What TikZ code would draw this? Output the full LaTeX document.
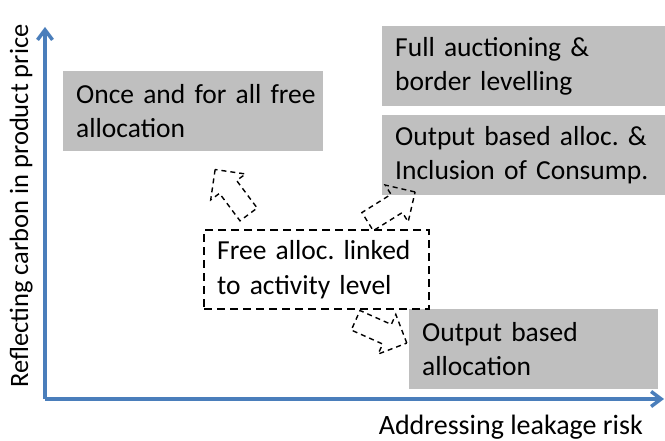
\documentclass[tikz,border=0pt]{standalone}
\usepackage{fontspec}
\setmainfont{Carlito}
\usetikzlibrary{shapes.arrows,arrows.meta}
\definecolor{axisblue}{HTML}{4A7EBB}
\definecolor{boxgray}{HTML}{BFBFBF}
\frenchspacing
\begin{document}
\begin{tikzpicture}[x=1pt,y=-1pt,
  font=\fontsize{27.5}{34.5}\selectfont,
  gbox/.style={fill=boxgray, draw=none, anchor=north west, align=left,
    inner xsep=13pt, inner ysep=0pt, minimum height=80pt},
  dbox/.style={draw=black, dash pattern=on 8pt off 5pt, line width=2.4pt,
    anchor=north west, align=left, inner xsep=13pt, inner ysep=0pt, minimum height=79pt},
  blockarrow/.style={single arrow, draw=black, dash pattern=on 5pt off 4pt,
    line width=1.4pt, minimum height=56pt, minimum width=42pt, inner xsep=0pt,
    inner ysep=10pt, single arrow head extend=11pt, anchor=tail},
  axis/.style={draw=axisblue, line width=3.5pt, -{Straight Barb[length=10pt,width=15pt]}}]
\useasboundingbox (0,0) rectangle (665,441);

% axes
\coordinate (O) at (45,399);
\coordinate (ytop) at (45,27);
\coordinate (xend) at (664,399);
\draw[axis] (O) -- (ytop);
\draw[axis] (O) -- (xend);
\node[anchor=base west, rotate=90, inner sep=0pt, font=\fontsize{26.5}{32}\selectfont] (ylab) at (28,388) {Reflecting carbon in product price};
\node[anchor=base east, inner sep=0pt, font=\fontsize{28}{34}\selectfont] (xlab) at (643,434) {Addressing leakage risk};

% boxes
\node[gbox, text width=234pt] (once) at (63,71) {\mbox{Once and for all free}\\\mbox{allocation}};
\node[gbox, text width=257pt] (full) at (382,26) {\mbox{Full auctioning \&}\\\mbox{border levelling}};
\node[gbox, text width=257pt] (obinc) at (382,115) {\mbox{Output based alloc. \&}\\\mbox{Inclusion of Consump.}};
\node[gbox, text width=223pt] (oba) at (409,309) {\mbox{Output based}\\\mbox{allocation}};
\node[dbox, text width=199pt] (free) at (203,229) {\mbox{Free alloc. linked}\\\mbox{to activity level}};

% block arrows
\node[blockarrow, rotate=126.7] (a1) at (249,215) {};
\node[blockarrow, rotate=32] (a2) at (367,222) {};
\node[blockarrow, rotate=-24] (a3) at (355,320) {};
\end{tikzpicture}
\end{document}
